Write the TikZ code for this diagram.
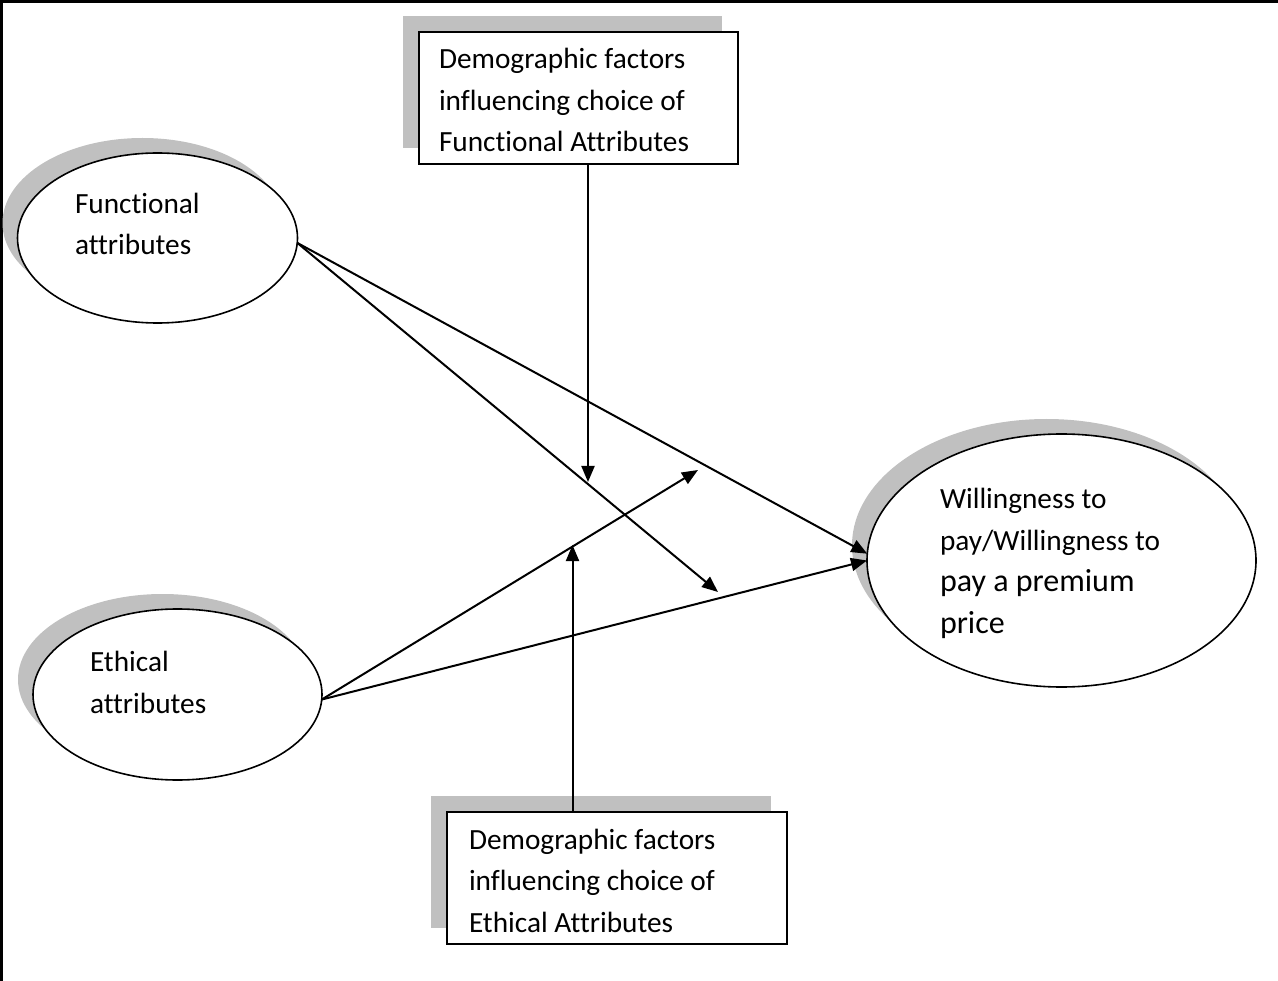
\documentclass[tikz,border=0pt]{standalone}
\usepackage{fontspec}
\setmainfont{Carlito}[Ligatures=NoCommon]
\usetikzlibrary{arrows.meta,shapes.geometric,shadows}
\definecolor{shadowgray}{RGB}{192,192,192}
\begin{document}
\begin{tikzpicture}[x=1pt,y=-1pt,
  every node/.style={inner sep=0pt, outer sep=0pt},
  ovalshadow/.style={drop shadow={shadow xshift=-15pt,shadow yshift=15pt,fill=shadowgray,opacity=1}},
  boxshadow/.style={drop shadow={shadow xshift=-16pt,shadow yshift=16pt,fill=shadowgray,opacity=1}},
  oval/.style={ellipse, draw, line width=1.6pt, fill=white, ovalshadow},
  factorbox/.style={rectangle, draw, line width=1.6pt, fill=white, boxshadow},
  % multi-line labels are placed by the baseline of their last line
  txt/.style={anchor=base west, align=left, font=\fontsize{29.3}{41.5}\selectfont},
  link/.style={line width=2pt, -{Triangle[length=16pt,width=13pt]}},
]
\useasboundingbox (0,0) rectangle (1278,981);
% page frame (top and left rules)
\draw[line width=3pt] (1.5,981) -- (1.5,1.5) -- (1278,1.5);

% constructs
\node[oval, minimum width=280pt, minimum height=170pt] (fa) at (157.5,238) {};
\node[oval, minimum width=289pt, minimum height=171pt] (ea) at (177.5,694.5) {};
\node[oval, minimum width=389pt, minimum height=253pt] (wp) at (1061.5,560.5) {};

% moderating factors
\node[factorbox, minimum width=319pt, minimum height=132pt] (tb) at (578.5,98) {};
\node[factorbox, minimum width=340pt, minimum height=132pt] (bb) at (617,878) {};

% labels
\node[txt] (fatext) at (75,255) {Functional\\attributes};
\node[txt] (eatext) at (90,713) {Ethical\\attributes};
\node[txt] (tbtext) at (439,152) {Demographic factors\\influencing choice of\\Functional Attributes};
\node[txt] (bbtext) at (469,932) {Demographic factors\\influencing choice of\\Ethical Attributes};
\node[txt] (wptext) at (940,633) {Willingness to\\pay/Willingness to\\{\fontsize{32}{43}\selectfont pay a premium}\\{\fontsize{32}{43}\selectfont price}};

% arrow end points on the paths
\coordinate (t1) at (588,482);
\coordinate (t2) at (572.5,545);
\coordinate (t3) at (718,592);
\coordinate (t4) at (698,470);

% paths
\draw[link] (fa.-2) -- (wp.178);
\draw[link] (fa.-2) -- (t3);
\draw[link] (ea.-2) -- (wp.180);
\draw[link] (ea.-2) -- (t4);
\draw[link] (tb.south -| t1) -- (t1);
\draw[link] (bb.north -| t2) -- (t2);
\end{tikzpicture}
\end{document}
